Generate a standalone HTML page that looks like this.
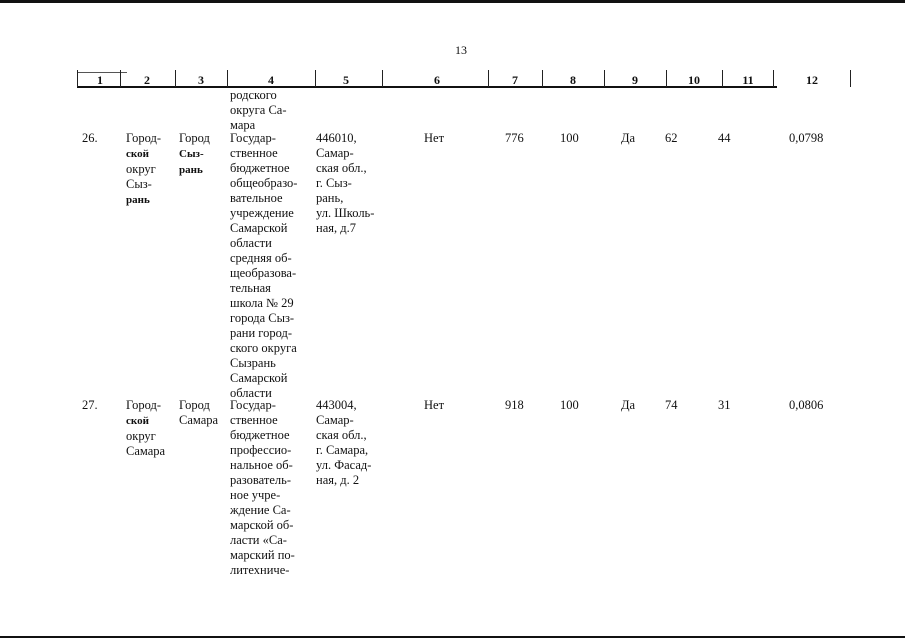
<!DOCTYPE html>
<html><head><meta charset="utf-8"><style>
body{margin:0;width:905px;height:640px;background:#fff;position:relative;overflow:hidden;font-family:"Liberation Serif","Noto Serif CJK SC",serif;color:#111}
.t{position:absolute;font-size:12.5px;line-height:15px;white-space:nowrap}
.b{font-weight:bold}
.h{position:absolute;top:73px;font-size:12px;font-weight:bold;width:40px;text-align:center;margin-left:-20px}
.v{position:absolute;top:70px;height:17px;width:1px;background:#222}
.ln{position:absolute;background:#111}
</style></head><body>
<div class="ln" style="left:0;top:0;width:905px;height:3px"></div>
<div class="ln" style="left:0;top:636px;width:905px;height:2px"></div>
<div class="t" style="left:455px;top:43px;font-size:12px">13</div>
<div class="ln" style="left:77px;top:86px;width:700px;height:2px"></div>
<div class="ln" style="left:77px;top:72px;width:50px;height:1px;background:#555"></div>
<div class="v" style="left:77px"></div><div class="v" style="left:120px"></div><div class="v" style="left:175px"></div><div class="v" style="left:227px"></div><div class="v" style="left:315px"></div><div class="v" style="left:382px"></div><div class="v" style="left:488px"></div><div class="v" style="left:542px"></div><div class="v" style="left:604px"></div><div class="v" style="left:666px"></div><div class="v" style="left:722px"></div><div class="v" style="left:773px"></div><div class="v" style="left:850px"></div>
<div class="h" style="left:100px">1</div><div class="h" style="left:147px">2</div><div class="h" style="left:201px">3</div><div class="h" style="left:271px">4</div><div class="h" style="left:346px">5</div><div class="h" style="left:437px">6</div><div class="h" style="left:515px">7</div><div class="h" style="left:573px">8</div><div class="h" style="left:635px">9</div><div class="h" style="left:694px">10</div><div class="h" style="left:748px">11</div><div class="h" style="left:812px">12</div>

<div class="t" style="left:230px;top:88px">родского<br>округа Са-<br>мара</div>

<div class="t" style="left:82px;top:131px">26.</div>
<div class="t" style="left:126px;top:131px">Город-<br><span class="b" style="font-size:11px">ской</span><br>округ<br>Сыз-<br><span class="b" style="font-size:11px">рань</span></div>
<div class="t" style="left:179px;top:131px">Город<br><span class="b" style="font-size:11px">Сыз-<br>рань</span></div>
<div class="t" style="left:230px;top:131px">Государ-<br>ственное<br>бюджетное<br>общеобразо-<br>вательное<br>учреждение<br>Самарской<br>области<br>средняя об-<br>щеобразова-<br>тельная<br>школа № 29<br>города Сыз-<br>рани город-<br>ского округа<br>Сызрань<br>Самарской<br>области</div>
<div class="t" style="left:316px;top:131px">446010,<br>Самар-<br>ская обл.,<br>г. Сыз-<br>рань,<br>ул. Школь-<br>ная, д.7</div>
<div class="t" style="left:424px;top:131px">Нет</div>
<div class="t" style="left:505px;top:131px">776</div>
<div class="t" style="left:560px;top:131px">100</div>
<div class="t" style="left:621px;top:131px">Да</div>
<div class="t" style="left:665px;top:131px">62</div>
<div class="t" style="left:718px;top:131px">44</div>
<div class="t" style="left:789px;top:131px">0,0798</div>

<div class="t" style="left:82px;top:398px">27.</div>
<div class="t" style="left:126px;top:398px">Город-<br><span class="b" style="font-size:11px">ской</span><br>округ<br>Самара</div>
<div class="t" style="left:179px;top:398px">Город<br>Самара</div>
<div class="t" style="left:230px;top:398px">Государ-<br>ственное<br>бюджетное<br>профессио-<br>нальное об-<br>разователь-<br>ное учре-<br>ждение Са-<br>марской об-<br>ласти «Са-<br>марский по-<br>литехниче-</div>
<div class="t" style="left:316px;top:398px">443004,<br>Самар-<br>ская обл.,<br>г. Самара,<br>ул. Фасад-<br>ная, д. 2</div>
<div class="t" style="left:424px;top:398px">Нет</div>
<div class="t" style="left:505px;top:398px">918</div>
<div class="t" style="left:560px;top:398px">100</div>
<div class="t" style="left:621px;top:398px">Да</div>
<div class="t" style="left:665px;top:398px">74</div>
<div class="t" style="left:718px;top:398px">31</div>
<div class="t" style="left:789px;top:398px">0,0806</div>
</body></html>
